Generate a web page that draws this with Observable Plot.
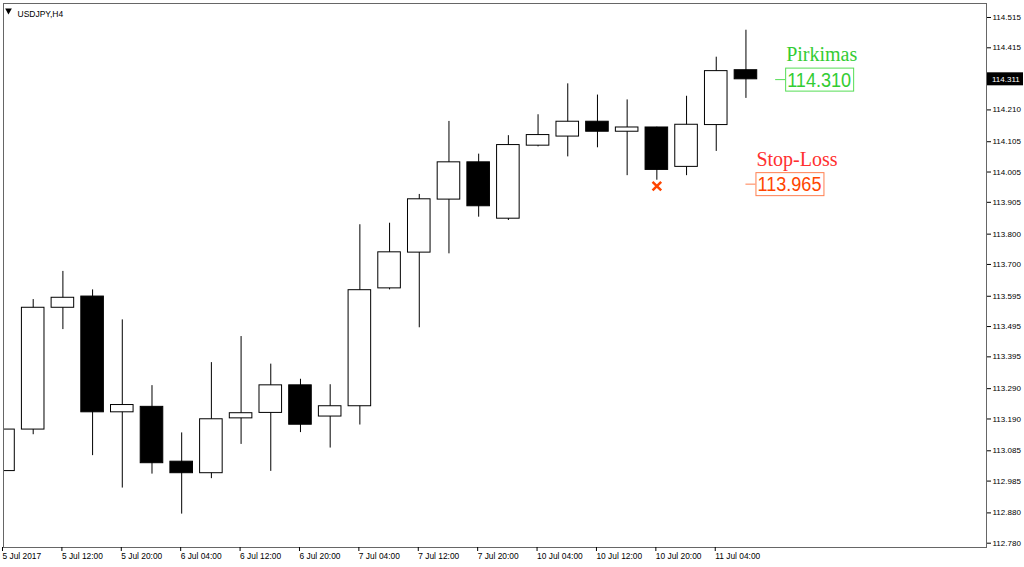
<!DOCTYPE html>
<html>
<head>
<meta charset="utf-8">
<script src="https://cdn.jsdelivr.net/npm/d3@7"></script>
<script src="https://cdn.jsdelivr.net/npm/@observablehq/plot@0.6"></script>
<style>
  html, body { margin: 0; padding: 0; background: white; }
</style>
</head>
<body>
<div id="chart"></div>
<script>
// USDJPY H4 bars
const open  = [113.018,113.155,113.557,113.594,113.212,113.230,113.049,113.011,113.192,113.210,113.301,113.198,113.232,113.621,113.739,113.914,114.037,113.851,114.092,114.122,114.171,114.138,114.152,114.022,114.160,114.341]
const high  = [113.157,113.584,113.677,113.616,113.517,113.300,113.144,113.376,113.462,113.371,113.321,113.303,113.831,113.836,113.931,114.172,114.064,114.125,114.194,114.296,114.259,114.243,114.153,114.255,114.384,114.473]
const low   = [112.816,113.138,113.485,113.069,112.962,113.008,112.876,112.993,113.106,113.017,113.145,113.094,113.170,113.616,113.491,113.735,113.856,113.845,114.088,114.055,114.085,113.993,113.978,113.993,114.073,114.248]
const close = [113.155,113.557,113.590,113.212,113.236,113.044,113.011,113.189,113.209,113.301,113.171,113.232,113.615,113.740,113.915,114.037,113.892,114.094,114.127,114.171,114.138,114.152,114.012,114.161,114.338,114.311]

const xTickBars = [0,2,4,6,8,10,12,14,16,18,20,22,24]
const xTickLabels = ["5 Jul 2017","5 Jul 12:00","5 Jul 20:00","6 Jul 04:00","6 Jul 12:00","6 Jul 20:00","7 Jul 04:00","7 Jul 12:00","7 Jul 20:00","10 Jul 04:00","10 Jul 12:00","10 Jul 20:00","11 Jul 04:00"]
const yTicks = [114.515,114.415,114.210,114.105,114.005,113.905,113.800,113.700,113.595,113.495,113.395,113.290,113.190,113.085,112.985,112.880,112.780]

const title = "USDJPY,H4"
const lastPrice = 114.311
const buyLabel = "Pirkimas", buyPrice = 114.310, buyBar = 26
const stopLabel = "Stop-Loss", stopPrice = 113.965, stopBar = 25, stopHitBar = 22

const bars = open.map((o, i) => ({i, open: o, high: high[i], low: low[i], close: close[i]}))
const up = bars.filter(d => d.close >= d.open)
const down = bars.filter(d => d.close < d.open)

// box with a little dash on the left and a name above it
function levelTag(name, price, bar, nameColor, boxColor, numColor) {
  return (index, scales) => {
    const x0 = scales.x(bar), y0 = scales.y(price)
    const g = d3.create("svg:g").attr("text-anchor", "start")
    g.append("line").attr("x1", x0).attr("x2", x0 + 10).attr("y1", y0 + 0.5).attr("y2", y0 + 0.5)
      .attr("stroke", boxColor)
    g.append("rect").attr("x", x0 + 10.5).attr("y", y0 - 11).attr("width", 68).attr("height", 23)
      .attr("fill", "white").attr("stroke", boxColor)
    g.append("text").attr("x", x0 + 12).attr("y", y0 + 7.5)
      .attr("font-family", "Liberation Sans").attr("font-size", 20)
      .attr("textLength", 64).attr("lengthAdjust", "spacingAndGlyphs")
      .attr("fill", numColor).text(price.toFixed(3))
    g.append("text").attr("x", x0 + 11).attr("y", y0 - 18)
      .attr("font-family", "Liberation Serif").attr("font-size", 20)
      .attr("fill", nameColor).text(name)
    return g.node()
  }
}

// black price tag on the right axis
function priceTag(price) {
  return (index, scales, values, dims) => {
    const x0 = dims.width - dims.marginRight + 1, y0 = scales.y(price)
    const g = d3.create("svg:g").attr("text-anchor", "start")
    g.append("rect").attr("x", x0).attr("y", y0 - 6.5).attr("width", 36).attr("height", 13).attr("fill", "black")
    g.append("text").attr("x", x0 + 5).attr("y", y0 + 3).attr("font-size", 8)
      .attr("font-family", "Liberation Sans").attr("fill", "white").text(price.toFixed(3))
    return g.node()
  }
}

let chart = Plot.plot({
  width: 1024,
  height: 567,
  marginLeft: 3,
  marginRight: 38,
  marginTop: 3,
  marginBottom: 20,
  x: {domain: [0, 33.1]},
  y: {domain: [112.7658, 114.5612]},
  style: {
    fontFamily: "Liberation Sans",
    fontSize: "8px",
    background: "white",
    color: "black"
  },
  marks: [
    Plot.ruleX(bars, {x: "i", y1: "low", y2: "high", stroke: "black", clip: true}),
    Plot.rect(up, {x1: d => d.i - 0.38, x2: d => d.i + 0.38, y1: "open", y2: "close", fill: "white", stroke: "black", clip: true}),
    Plot.rect(down, {x1: d => d.i - 0.38, x2: d => d.i + 0.38, y1: "open", y2: "close", fill: "black", stroke: "black", clip: true}),
    Plot.frame({stroke: "#666"}),
    Plot.axisY(yTicks, {anchor: "right", tickSize: 4, tickPadding: 2, fontSize: 8, tickFormat: d => d.toFixed(3)}),
    Plot.axisX(xTickBars, {anchor: "bottom", tickSize: 4, tickPadding: 2, fontSize: 8.4, textAnchor: "start", dx: -1,
      tickFormat: (d, k) => xTickLabels[k], label: null}),
    priceTag(lastPrice),
    Plot.dot([stopPrice], {x: () => stopHitBar, y: d => d, symbol: "times", r: 4, stroke: "#ff4500", strokeWidth: 2.5, dy: 2}),
    levelTag(buyLabel, buyPrice, buyBar, "#33cc33", "#55dd55", "#33cc33"),
    levelTag(stopLabel, stopPrice, stopBar, "#ff3030", "#ff7f50", "#ff4500"),
    Plot.dot([title], {frameAnchor: "top-left", dx: 5, dy: 7, symbol: "triangle", rotate: 180, r: 2.5, fill: "black"}),
    Plot.text([title], {frameAnchor: "top-left", dx: 14, dy: 7, text: d => d, textAnchor: "start", fontSize: 8.5})
  ]
})

d3.select('#chart').append(() => chart)
</script>
</body>
</html>
